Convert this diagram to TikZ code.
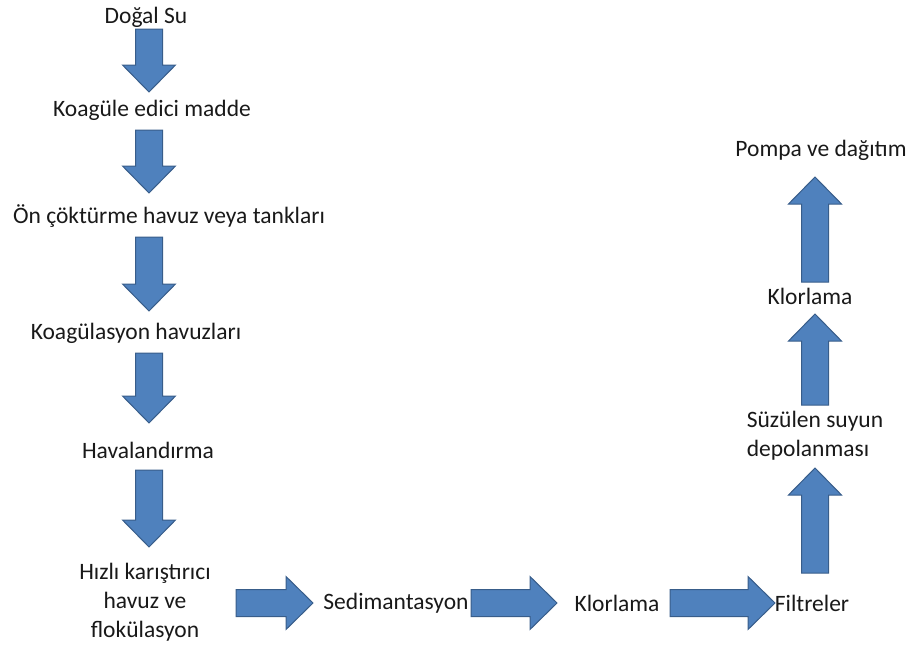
\documentclass[tikz,border=0pt]{standalone}
\usepackage{fontspec}
\setmainfont{Carlito}
\usetikzlibrary{calc}
\definecolor{arrowfill}{HTML}{4F81BD}
\definecolor{arrowline}{HTML}{385D8A}
\tikzset{
  lbl/.style={font=\fontsize{23.5}{29}\selectfont, inner sep=0pt, text=black!90},
  fatarrow/.style={fill=arrowfill, draw=arrowline, line width=1pt, line join=miter}
}
% block arrow: from, to, gap at start, gap at end
\newcommand{\fatarrow}[4]{%
  \path ($#1!#3!#2$) coordinate (fa-s) ($#2!#4!#1$) coordinate (fa-t)
    ($(fa-t)!27pt!(fa-s)$) coordinate (fa-b);
  \draw[fatarrow] ($(fa-s)!13.5pt!90:(fa-t)$) -- ($(fa-b)!13.5pt!90:(fa-t)$)
    -- ($(fa-b)!26.5pt!90:(fa-t)$) -- (fa-t) -- ($(fa-b)!26.5pt!-90:(fa-t)$)
    -- ($(fa-b)!13.5pt!-90:(fa-t)$) -- ($(fa-s)!13.5pt!-90:(fa-t)$) -- cycle;
}
\begin{document}
\begin{tikzpicture}[x=1pt, y=-1pt]
    \useasboundingbox (0,0) rectangle (914,648);
    \coordinate (colL) at (149,0);
    \coordinate (colR) at (815,0);
    \coordinate (rowB) at (0,603);

    % left column
    \node[lbl] (dogal) at (146,17) {Doğal Su};
    \node[lbl] (koagule) at (152,110) {Koagüle edici madde};
    \node[lbl] (cokturme) at (169,216) {Ön çöktürme havuz veya tankları};
    \node[lbl] (koagulasyon) at (136,333) {Koagülasyon havuzları};
    \node[lbl] (havalandirma) at (148,450) {Havalandırma};
    \node[lbl, align=center] (hizli) at (145,602) {Hızlı karıştırıcı\\havuz ve\\flokülasyon};

    % bottom row
    \node[lbl] (sedim) at (396,603) {Sedimantasyon};
    \node[lbl] (klorA) at (617,603) {Klorlama};
    \node[lbl] (filtre) at (812,603) {Filtreler};

    % right column
    \node[lbl, align=left] (suzulen) at (815,436) {Süzülen suyun\\depolanması};
    \node[lbl] (klorB) at (810,296) {Klorlama};
    \node[lbl] (pompa) at (821,150) {Pompa ve dağıtım};

    % arrows down
    \fatarrow{(colL |- dogal)}{(colL |- koagule)}{12pt}{18pt}
    \fatarrow{(colL |- koagule)}{(colL |- cokturme)}{20pt}{23pt}
    \fatarrow{(colL |- cokturme)}{(colL |- koagulasyon)}{21pt}{22pt}
    \fatarrow{(colL |- koagulasyon)}{(colL |- havalandirma)}{20pt}{27pt}
    \fatarrow{(colL |- havalandirma)}{(colL |- hizli)}{20pt}{55pt}

    % arrows right
    \fatarrow{(rowB -| hizli)}{(rowB -| sedim)}{91pt}{83pt}
    \fatarrow{(rowB -| sedim)}{(rowB -| klorA)}{75pt}{60pt}
    \fatarrow{(rowB -| klorA)}{(rowB -| filtre)}{53pt}{37pt}

    % arrows up
    \fatarrow{(colR |- filtre)}{(colR |- suzulen)}{30pt}{32pt}
    \fatarrow{(colR |- suzulen)}{(colR |- klorB)}{31pt}{18pt}
    \fatarrow{(colR |- klorB)}{(colR |- pompa)}{14pt}{27pt}
\end{tikzpicture}
\end{document}
